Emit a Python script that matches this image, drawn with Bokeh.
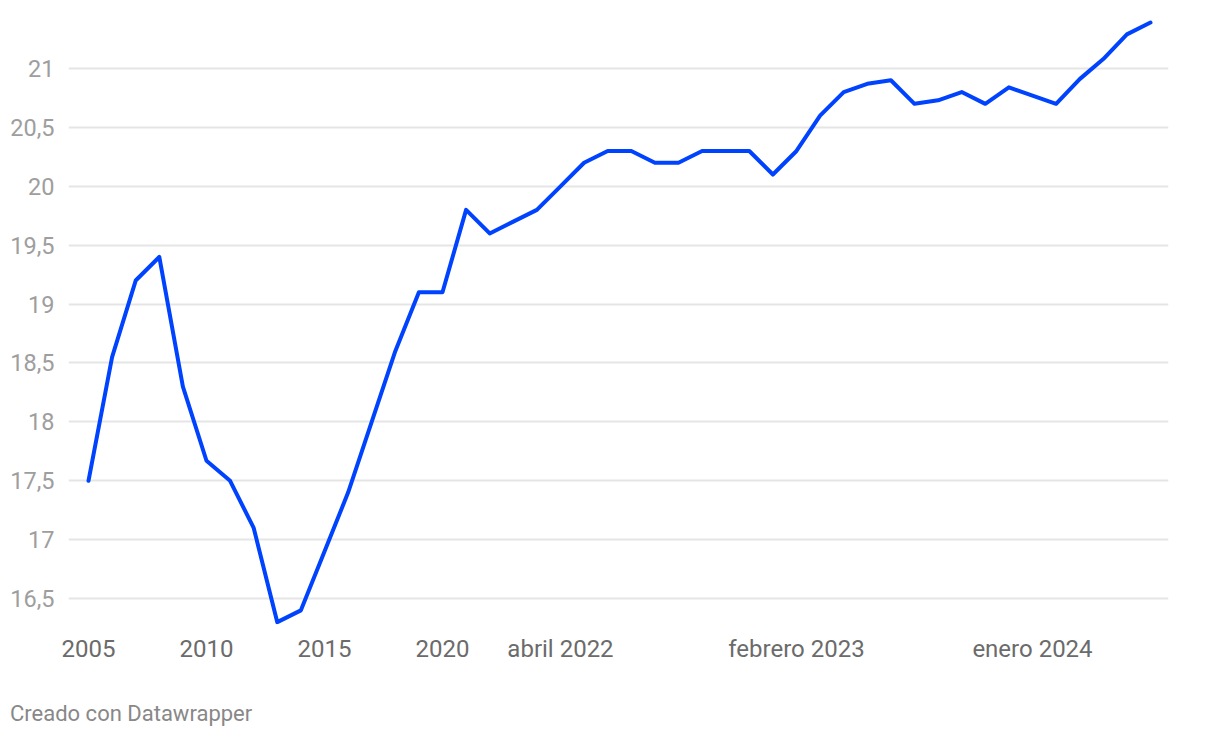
from bokeh.plotting import figure
from bokeh.models import Range1d, FixedTicker, ColumnDataSource, Div
from bokeh.layouts import column
from bokeh.embed import file_html
from bokeh.resources import INLINE

# ---- data ----
periods = [
    "2005", "2006", "2007", "2008", "2009", "2010", "2011", "2012", "2013", "2014",
    "2015", "2016", "2017", "2018", "2019", "2020", "2021",
    "enero 2022", "febrero 2022", "marzo 2022", "abril 2022", "mayo 2022", "junio 2022",
    "julio 2022", "agosto 2022", "septiembre 2022", "octubre 2022", "noviembre 2022",
    "diciembre 2022", "enero 2023", "febrero 2023", "marzo 2023", "abril 2023",
    "mayo 2023", "junio 2023", "julio 2023", "septiembre 2023", "octubre 2023",
    "noviembre 2023", "diciembre 2023", "enero 2024", "febrero 2024", "marzo 2024",
    "abril 2024", "mayo 2024", "junio 2024",
]
values = [
    17.5, 18.55, 19.2, 19.4, 18.3, 17.67, 17.5, 17.1, 16.3, 16.4,
    16.9, 17.4, 18.0, 18.6, 19.1, 19.1, 19.8,
    19.6, 19.7, 19.8, 20.0, 20.2, 20.3,
    20.3, 20.2, 20.2, 20.3, 20.3,
    20.3, 20.1, 20.3, 20.6, 20.8,
    20.87, 20.9, 20.7, 20.73, 20.8,
    20.7, 20.84, 20.77, 20.7, 20.91,
    21.08, 21.29, 21.39,
]
x_tick_labels = ["2005", "2010", "2015", "2020", "abril 2022", "febrero 2023", "enero 2024"]
y_ticks = [16.5, 17, 17.5, 18, 18.5, 19, 19.5, 20, 20.5, 21]
credit_text = "Creado con Datawrapper"

idx = list(range(len(periods)))
src = ColumnDataSource(dict(x=idx, y=values, period=periods))

p = figure(
    width=1220, height=690,
    output_backend="svg", toolbar_location=None,
    x_range=Range1d(-0.847, 45.763), y_range=Range1d(16.280, 21.45),
    min_border_left=68, min_border_right=52, min_border_top=15, min_border_bottom=66,
)
p.outline_line_color = None
p.background_fill_color = "white"
p.border_fill_color = "white"

p.line("x", "y", source=src, line_color="#0043ff", line_width=4,
       line_join="round", line_cap="round")

# x axis
tick_pos = [periods.index(t) for t in x_tick_labels]
p.xaxis.ticker = FixedTicker(ticks=tick_pos)
p.xaxis.major_label_overrides = {i: periods[i] for i in tick_pos}
p.xaxis.axis_line_color = None
p.xaxis.major_tick_line_color = None
p.xaxis.minor_tick_line_color = None
p.xaxis.major_label_text_font = "Roboto"
p.xaxis.major_label_text_font_size = "24px"
p.xaxis.major_label_text_color = "#6b6b6b"
p.xaxis.major_label_standoff = 4
p.xgrid.grid_line_color = None

# y axis
p.yaxis.ticker = FixedTicker(ticks=y_ticks)
p.yaxis.major_label_overrides = {t: (f"{t:g}").replace(".", ",") for t in y_ticks}
p.yaxis.axis_line_color = None
p.yaxis.major_tick_line_color = None
p.yaxis.minor_tick_line_color = None
p.yaxis.major_label_text_font = "Roboto"
p.yaxis.major_label_text_font_size = "23.5px"
p.yaxis.major_label_text_color = "#9e9e9e"
p.yaxis.major_label_standoff = 8
p.ygrid.grid_line_color = "#e5e5e5"
p.ygrid.grid_line_width = 2

credit = Div(text=credit_text, width=400, height=26, margin=(11, 0, 0, 10),
             styles={"font-family": "Roboto", "font-size": "22px", "color": "#888888",
                     "line-height": "26px"})

layout = column(p, credit, spacing=0)

open("out.html", "w").write(file_html(layout, INLINE))
